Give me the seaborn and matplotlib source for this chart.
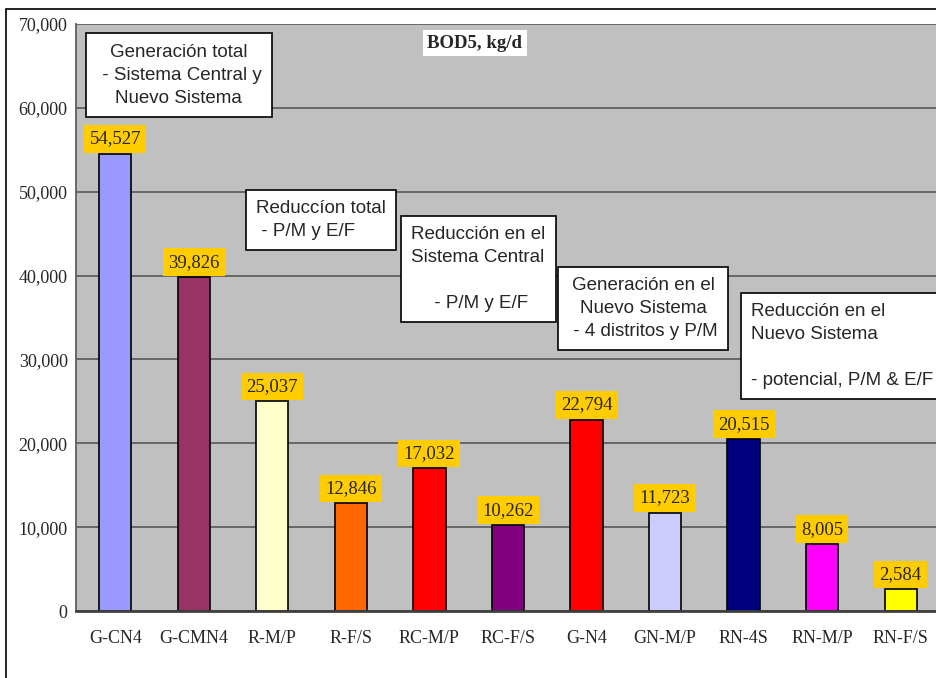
import numpy as np
import pandas as pd
import matplotlib
matplotlib.use("Agg")
import matplotlib.pyplot as plt
import seaborn as sns
from matplotlib.patches import Rectangle
from matplotlib.ticker import FuncFormatter, FixedLocator

# data
categories = ["G-CN4", "G-CMN4", "R-M/P", "R-F/S", "RC-M/P", "RC-F/S",
              "G-N4", "GN-M/P", "RN-4S", "RN-M/P", "RN-F/S"]
bod5 = [54527, 39826, 25037, 12846, 17032, 10262, 22794, 11723, 20515, 8005, 2584]
bar_colors = ["#9999FF", "#993366", "#FFFFCC", "#FF6600", "#FF0000", "#800080",
              "#FF0000", "#CCCCFF", "#000080", "#FF00FF", "#FFFF00"]

# note text, x, y, alignment
notes = [
    ("Generación total\n - Sistema Central y\nNuevo Sistema", 0.81, 63900, "center"),
    ("Reduccíon total\n - P/M y E/F", 1.79, 46600, "left"),
    ("Reducción en el\nSistema Central\n\n - P/M y E/F", 4.62, 40800, "center"),
    ("Generación en el\nNuevo Sistema\n - 4 distritos y P/M", 6.72, 36100, "center"),
    ("Reducción en el\nNuevo Sistema\n\n- potencial, P/M & E/F", 8.1, 31600, "left"),
]

df = pd.DataFrame({"cat": categories, "val": bod5})

sns.set_style("white")
plt.rcParams["font.family"] = ["Liberation Serif", "DejaVu Serif"]

fig = plt.figure(figsize=(9.36, 6.78), dpi=100)
ax = fig.add_axes([0.0812, 0.0988, 0.923, 0.8658])

sns.barplot(data=df, x="cat", y="val", hue="cat", palette=bar_colors,
            saturation=1, legend=False, width=0.41, edgecolor="black",
            linewidth=1.2, ax=ax)

ax.set_facecolor("#C0C0C0")
ax.set_xlim(-0.5, 10.5)
ax.set_ylim(0, 70000)
ax.set_yticks(np.arange(0, 70001, 10000))
ax.yaxis.set_major_formatter(FuncFormatter(lambda v, p: f"{int(v):,}"))
ax.grid(axis="y", color="#606060", linewidth=1.3)
ax.set_axisbelow(True)
for s in ["top", "right"]:
    ax.spines[s].set_visible(False)
ax.spines["left"].set_color("#606060")
ax.spines["left"].set_linewidth(1.3)
ax.spines["bottom"].set_color("#404040")
ax.spines["bottom"].set_linewidth(2)

ax.set_xlabel("")
ax.set_ylabel("")
ax.tick_params(axis="y", labelsize=13, length=5, width=1.3, color="#606060",
               direction="out", pad=1)
ax.tick_params(axis="x", which="major", labelsize=13, length=0, pad=14)
ax.xaxis.set_minor_locator(FixedLocator(np.arange(0.5, 10.5, 1)))
ax.tick_params(axis="x", which="minor", direction="in", length=5, width=1, color="#404040")

# value labels on yellow boxes
for i, v in enumerate(bod5):
    ax.text(i, v + 750, f"{v:,}", ha="center", va="bottom", fontsize=13.5,
            bbox=dict(boxstyle="square,pad=0.28", facecolor="#FFCC00", edgecolor="none"))

ax.text(4.58, 67700, "BOD5, kg/d", ha="center", va="center", fontsize=13.5,
        fontweight="bold", bbox=dict(boxstyle="square,pad=0.25", facecolor="white",
                                     edgecolor="none"))

for txt, x, y, al in notes:
    ax.text(x, y, txt, ha="left" if al == "left" else "center", va="center",
            multialignment=al, fontsize=13.5, family=["Liberation Sans", "DejaVu Sans"],
            linespacing=1.45,
            bbox=dict(boxstyle="square,pad=0.55", facecolor="white",
                      edgecolor="black", linewidth=1.2))

fig.patches.append(Rectangle((0.0064, -0.1), 2, 1.0867, fill=False,
                             edgecolor="black", linewidth=1.2,
                             transform=fig.transFigure, figure=fig))

fig.savefig("out.png", dpi=100)
